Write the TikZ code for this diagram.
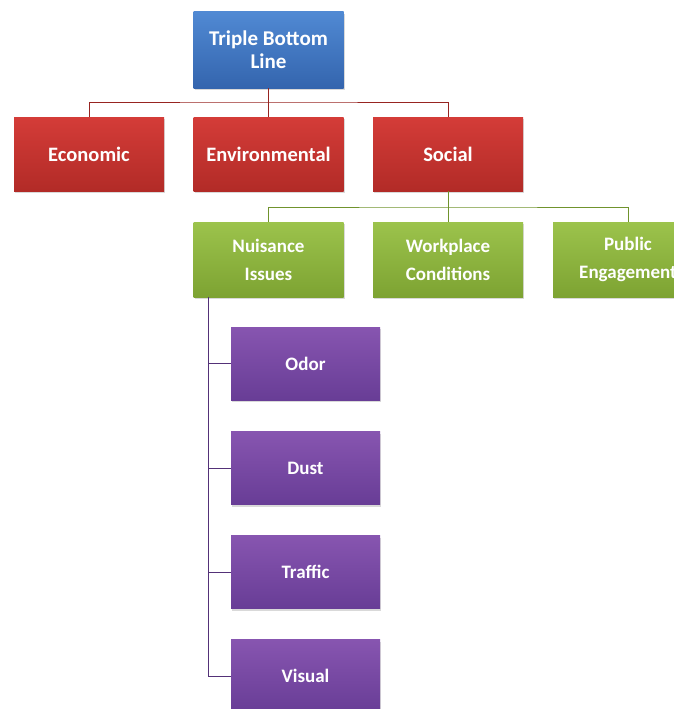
\documentclass[tikz,border=0pt]{standalone}
\usepackage{fontspec}
\setmainfont{Carlito}
\usetikzlibrary{shadows}
\definecolor{tblTop}{HTML}{5089D3}
\definecolor{tblBot}{HTML}{3465AE}
\definecolor{pilTop}{HTML}{D43C38}
\definecolor{pilBot}{HTML}{B22B27}
\definecolor{socTop}{HTML}{9CC34C}
\definecolor{socBot}{HTML}{7DA332}
\definecolor{nuiTop}{HTML}{8755B0}
\definecolor{nuiBot}{HTML}{683D96}
\tikzset{
  box/.style={minimum width=150pt, minimum height=74pt, inner sep=2pt, align=center, text=white,
    font=\fontsize{19}{28}\selectfont\bfseries,
    drop shadow={opacity=.3, shadow xshift=1pt, shadow yshift=-2pt}},
  tblbox/.style={box, top color=tblTop, bottom color=tblBot, minimum height=76pt,
    font=\fontsize{21}{23}\selectfont\bfseries},
  pilbox/.style={box, top color=pilTop, bottom color=pilBot,
    font=\fontsize{20.5}{23}\selectfont\bfseries},
  socbox/.style={box, top color=socTop, bottom color=socBot, minimum height=75pt},
  nuibox/.style={box, top color=nuiTop, bottom color=nuiBot, minimum width=149pt, minimum height=73pt},
  link/.style={line width=1pt}
}
\begin{document}
\begin{tikzpicture}[x=1pt, y=-1pt]
    \useasboundingbox (0, 0) rectangle (673, 709);
    % top
    \node[tblbox] (tbl) at (268.5, 50) {Triple Bottom\\Line};
    % pillars
    \node[pilbox] (eco) at (89, 154) {Economic};
    \node[pilbox] (env) at (268.5, 154) {Environmental};
    \node[pilbox] (soc) at (448, 154) {Social};
    % social issues
    \node[socbox] (nui) at (268.5, 259.5) {Nuisance\\Issues};
    \node[socbox] (wrk) at (448, 259.5) {Workplace\\Conditions};
    \node[socbox] (pub) at (628, 259.5) {Public\\Engagement};
    % nuisance issues
    \node[nuibox] (odor) at (305.5, 363.5) {Odor};
    \node[nuibox] (dust) at (305.5, 468) {Dust};
    \node[nuibox] (traf) at (305.5, 572) {Traffic};
    \node[nuibox] (vis) at (305.5, 676) {Visual};
    % connectors
    \coordinate (rbar) at (268.5, 102);
    \coordinate (gbar) at (448, 207);
    \coordinate (ptrunk) at (208, 297);
    \draw[link, pilBot!85!black] (tbl.south) -- (rbar);
    \draw[link, pilBot!85!black] (eco.north) |- (rbar) -| (soc.north);
    \draw[link, pilBot!85!black] (env.north) -- (rbar);
    \draw[link, socBot!90!black] (soc.south) -- (gbar);
    \draw[link, socBot!90!black] (nui.north) |- (gbar) -| (pub.north);
    \draw[link, socBot!90!black] (wrk.north) -- (gbar);
    \draw[link, nuiBot!80!black] (ptrunk) |- (vis.west);
    \draw[link, nuiBot!80!black] (odor.west) -- (odor.west -| ptrunk);
    \draw[link, nuiBot!80!black] (dust.west) -- (dust.west -| ptrunk);
    \draw[link, nuiBot!80!black] (traf.west) -- (traf.west -| ptrunk);
\end{tikzpicture}
\end{document}
